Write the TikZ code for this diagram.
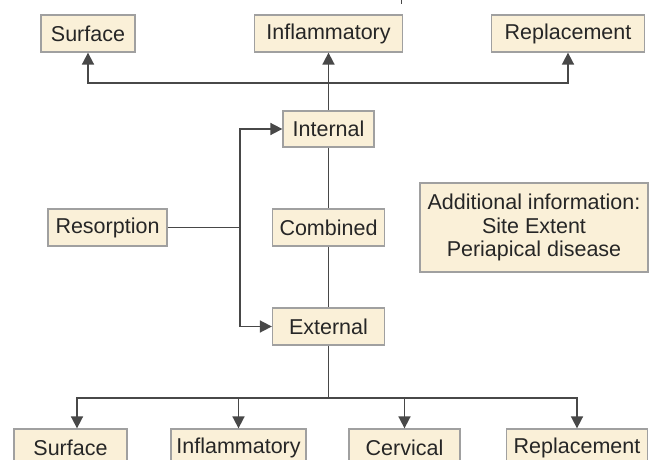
\documentclass[tikz,border=0pt]{standalone}
\usepackage{fontspec}
\setmainfont{Liberation Sans}
\usetikzlibrary{arrows.meta,calc}
\definecolor{boxfill}{HTML}{FAF0D8}
\definecolor{boxline}{HTML}{A0A0A0}
\definecolor{linecol}{HTML}{484848}
\definecolor{txtcol}{HTML}{262626}
\tikzset{
  box/.style={draw=boxline, fill=boxfill, line width=1.3pt, inner sep=0pt,
    text=txtcol, font=\fontsize{21.5}{23.5}\selectfont, minimum height=37pt},
  conn/.style={draw=linecol, line width=1.7pt},
  arr/.style={conn, -{Triangle[length=12pt,width=12pt]}},
}
\begin{document}
\begin{tikzpicture}[x=1pt,y=-1pt]
\useasboundingbox (0,0) rectangle (649,460);
\clip (0,0) rectangle (649,460);
\fill[white] (0,0) rectangle (649,460);
% top row
\node[box, minimum width=94pt]  (tSurf) at (88,33.5)    {Surface};
\node[box, minimum width=148pt] (tInfl) at (328.5,33.5) {Inflammatory};
\node[box, minimum width=153pt] (tRepl) at (568,33.5)   {Replacement};
% middle
\node[box, minimum width=91pt, minimum height=36pt]  (intl) at (328.5,129)   {Internal};
\node[box, minimum width=112pt] (comb) at (328.5,227.5) {Combined};
\node[box, minimum width=112pt] (extl) at (328.5,326.5) {External};
\node[box, minimum width=119pt] (reso) at (107.5,227.5) {Resorption};
\node[box, minimum width=228pt, minimum height=89pt, align=center] (addl) at (534,227.5)
  {Additional information:\\Site Extent\\Periapical disease};
% bottom row
\node[box, minimum width=113pt] (bSurf) at (70.5,447.5)  {Surface};
\node[box, minimum width=135pt] (bInfl) at (238.5,447.5) {Inflammatory};
\node[box, minimum width=111pt] (bCerv) at (404.5,447.5) {Cervical};
\node[box, minimum width=141pt] (bRepl) at (577,447.5)   {Replacement};
% junctions
\coordinate (jt) at (328.5,83);
\coordinate (jb) at (328.5,398);
\coordinate (br) at (240,227.5);
\coordinate (tk1) at (401,0);
\coordinate (tk2) at (401,4);
% connectors
\draw[arr] (intl.north) -- (tInfl.south);
\draw[arr] (jt) -| (tSurf.south);
\draw[arr] (jt) -| (tRepl.south);
\draw[conn] (intl.south) -- (comb.north);
\draw[conn] (comb.south) -- (extl.north);
\draw[conn] (reso.east) -- (br);
\draw[arr] (br) |- (intl.west);
\draw[arr] (br) |- (extl.west);
\draw[conn] (extl.south) -- (jb);
\draw[arr] (jb) -| ($(bSurf.north)+(6.5,0)$);
\draw[arr] (jb) -| (bInfl.north);
\draw[arr] (jb) -| (bCerv.north);
\draw[arr] (jb) -| (bRepl.north);
\draw[conn, line width=1pt] (tk1) -- (tk2);
\end{tikzpicture}
\end{document}
